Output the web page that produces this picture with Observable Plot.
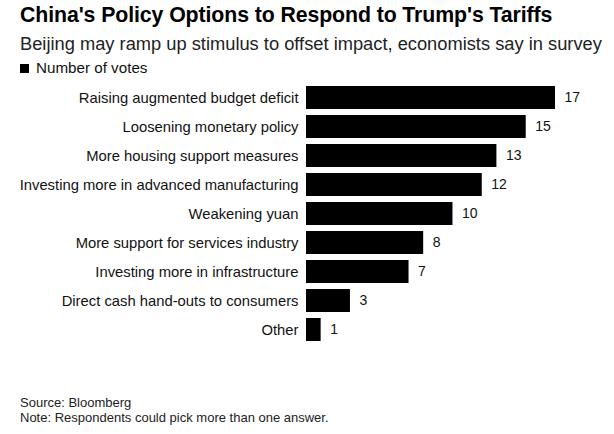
<!DOCTYPE html>
<html><head><meta charset="utf-8">
<script src="https://cdn.jsdelivr.net/npm/d3@7"></script>
<script src="https://cdn.jsdelivr.net/npm/@observablehq/plot@0.6"></script>
<style>
body{margin:0;background:#fff;font-family:"Liberation Sans",Arial,sans-serif;}
#wrap{position:relative;width:614px;height:434px;overflow:hidden;}
.t{position:absolute;left:20px;white-space:nowrap;}
#title{top:3px;font-size:21.3px;font-weight:bold;color:#000;letter-spacing:-0.1px;}
#sub{top:33px;font-size:18.3px;color:#222;}
#legend{top:59px;font-size:15.2px;color:#111;}
#legend span.sw{display:inline-block;width:9px;height:9px;background:#000;margin-right:7px;vertical-align:0px;}
#chart{position:absolute;left:0;top:80px;}
#src{top:395px;font-size:13px;color:#222;}
#note{top:410px;font-size:13px;color:#222;}
</style></head>
<body>
<div id="wrap">
<div class="t" id="title">China's Policy Options to Respond to Trump's Tariffs</div>
<div class="t" id="sub">Beijing may ramp up stimulus to offset impact, economists say in survey</div>
<div class="t" id="legend"><span class="sw"></span>Number of votes</div>
<div id="chart"></div>
<div class="t" id="src">Source: Bloomberg</div>
<div class="t" id="note">Note: Respondents could pick more than one answer.</div>
</div>
<script>
const categories = ["Raising augmented budget deficit","Loosening monetary policy","More housing support measures","Investing more in advanced manufacturing","Weakening yuan","More support for services industry","Investing more in infrastructure","Direct cash hand-outs to consumers","Other"];
const votes = [17,15,13,12,10,8,7,3,1];
const data = categories.map((c,i)=>({cat:c, v:votes[i]}));
const plot = Plot.plot({
  width:614, height:268,
  marginLeft:306, marginRight:59, marginTop:0, marginBottom:0,
  style:{fontFamily:"'Liberation Sans',Arial,sans-serif", fontSize:"14px", color:"#111", background:"#fff"},
  x:{domain:[0,17], axis:null},
  y:{domain:categories, padding:0.2, label:null},
  marks:[
    Plot.barX(data,{y:"cat", x:"v", fill:"#000"}),
    Plot.text(data,{y:"cat", x:"v", text:d=>String(d.v), textAnchor:"start", dx:9, fill:"#111", fontSize:14}),
    Plot.axisY({tickSize:0, tickPadding:8, label:null, fontSize:14.8, fill:"#111"})
  ]
});
document.getElementById("chart").appendChild(plot);
</script>
</body></html>
